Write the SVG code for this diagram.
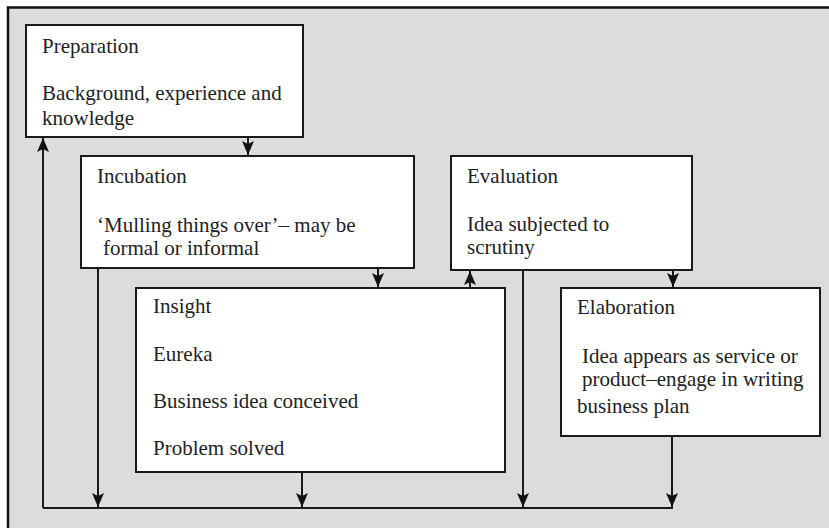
<svg xmlns="http://www.w3.org/2000/svg" width="829" height="528" viewBox="0 0 829 528">
<style>
.box{fill:#ffffff;stroke:#1a1a1a;stroke-width:2}
.t{font-family:"Liberation Serif","Times New Roman",serif;font-size:21px;fill:#222222}
.c{fill:none;stroke:#1a1a1a;stroke-width:2}
.a{marker-end:url(#ah)}
</style>
<defs>
<marker id="ah" viewBox="0 -7 15 14" markerWidth="15" markerHeight="14" refX="14" refY="0" orient="auto" markerUnits="userSpaceOnUse">
<path d="M0,-6 L14,0 L0,6 L3,0 z" fill="#111111"/>
</marker>
</defs>
<rect x="0" y="0" width="829" height="528" fill="#ffffff"/>
<rect x="8" y="7.5" width="840" height="540" fill="#dcdcdc" stroke="#111111" stroke-width="2.5"/>

<g id="connectors">
<path class="c a" d="M248,138 V155"/>
<path class="c a" d="M378,269 V287"/>
<path class="c a" d="M470,287 V271"/>
<path class="c a" d="M673,271 V287"/>
<path class="c a" d="M43,508 V138"/>
<path class="c" d="M43,508 H673"/>
<path class="c a" d="M98,269 V507"/>
<path class="c a" d="M302,473 V507"/>
<path class="c a" d="M523,271 V507"/>
<path class="c a" d="M672,437 V507"/>
</g>

<g id="preparation">
<rect class="box" x="26" y="25" width="277" height="112"/>
<text class="t" x="42" y="53">Preparation</text>
<text class="t" x="42" y="100">Background, experience and</text>
<text class="t" x="42" y="125">knowledge</text>
</g>

<g id="incubation">
<rect class="box" x="81" y="156" width="333" height="112"/>
<text class="t" x="97" y="183">Incubation</text>
<text class="t" x="97" y="232">‘Mulling things over’– may be</text>
<text class="t" x="103" y="255">formal or informal</text>
</g>

<g id="evaluation">
<rect class="box" x="451" y="156" width="241" height="114"/>
<text class="t" x="467" y="183">Evaluation</text>
<text class="t" x="467" y="231">Idea subjected to</text>
<text class="t" x="467" y="254">scrutiny</text>
</g>

<g id="insight">
<rect class="box" x="136" y="288" width="369" height="184"/>
<text class="t" x="153" y="313">Insight</text>
<text class="t" x="153" y="361">Eureka</text>
<text class="t" x="153" y="408">Business idea conceived</text>
<text class="t" x="153" y="455">Problem solved</text>
</g>

<g id="elaboration">
<rect class="box" x="561" y="288" width="259" height="148"/>
<text class="t" x="577" y="314">Elaboration</text>
<text class="t" x="582" y="363">Idea appears as service or</text>
<text class="t" x="582" y="386">product–engage in writing</text>
<text class="t" x="577" y="413">business plan</text>
</g>
</svg>
